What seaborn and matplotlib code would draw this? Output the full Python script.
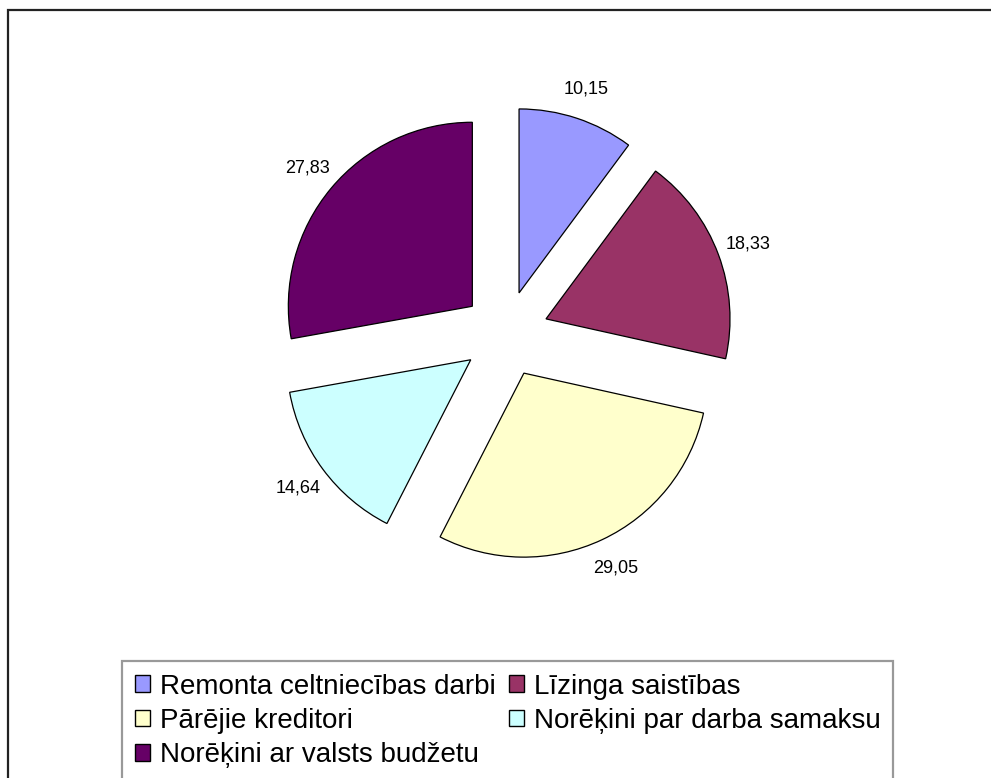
import matplotlib
matplotlib.use("Agg")
import matplotlib.pyplot as plt
from matplotlib.patches import Rectangle, Patch
import seaborn as sns

# data
categories = ["Remonta celtniecības darbi", "Līzinga saistības", "Pārējie kreditori",
              "Norēķini par darba samaksu", "Norēķini ar valsts budžetu"]
values = [10.15, 18.33, 29.05, 14.64, 27.83]
colors = ["#9999FF", "#993366", "#FFFFCC", "#CCFFFF", "#660066"]

sns.set_theme(style="white")
plt.rcParams['font.family'] = ['Liberation Sans', 'DejaVu Sans']

W, H = 991, 778
fig = plt.figure(figsize=(W / 100, H / 100), dpi=100)
fig.patch.set_facecolor("white")

# pie center (px) and radius (px)
cx, cy, R = 505.5, 334, 184
half = 2 * R
ax = fig.add_axes([(cx - half) / W, (H - cy - half) / H, 2 * half / W, 2 * half / H])

labels_iter = iter(values)
def fmt(p):
    return f"{next(labels_iter):.2f}".replace(".", ",")

wedges, texts, autotexts = ax.pie(
    values, colors=colors, startangle=90, counterclock=False,
    explode=[0.235] * len(values), autopct=fmt, pctdistance=1.17,
    wedgeprops=dict(edgecolor="black", linewidth=0.9),
    textprops=dict(fontsize=13, color="black"))
ax.set_xlim(-2, 2)
ax.set_ylim(-2, 2)
ax.set_aspect("equal")
ax.axis("off")

# outer chart frame (only top/left visible in the reference)
fig.patches.append(Rectangle((8 / W, -0.1), 1.2, 1 - 10 / H + 0.1, transform=fig.transFigure,
                             fill=False, edgecolor="#222222", linewidth=1.6, clip_on=False))

# legend fills row by row in the reference -> reorder for matplotlib's column fill
order = [0, 2, 4, 1, 3]
handles = [Patch(facecolor=colors[i], edgecolor="black", linewidth=1.0) for i in order]
leg_labels = [categories[i] for i in order]
leg = fig.legend(handles, leg_labels, loc="upper left", bbox_to_anchor=(122 / W, 1 - 661 / H),
                 ncol=2, fontsize=20, frameon=True, fancybox=False, shadow=False,
                 handlelength=0.55, handleheight=0.55, handletextpad=0.35,
                 columnspacing=0.5, labelspacing=0.3, borderpad=0.45, borderaxespad=0)
leg.get_frame().set_edgecolor("#808080")
leg.get_frame().set_linewidth(1.6)
for t in leg.get_texts():
    t.set_color("black")

fig.savefig("out.png", dpi=100)
